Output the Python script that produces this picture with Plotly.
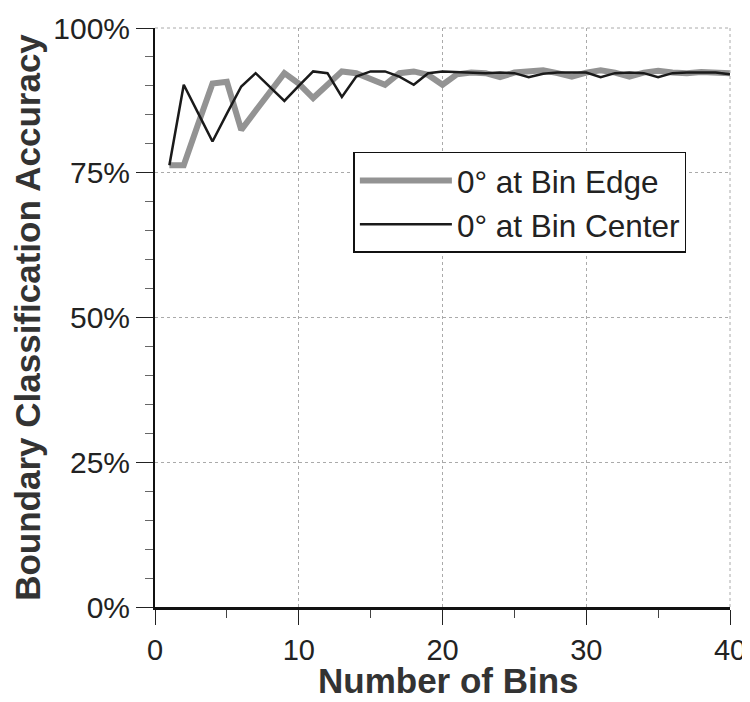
import plotly.graph_objects as go

bins = list(range(1, 41))
edge_acc = [76.3, 76.3, 83.4, 90.4, 90.7, 82.4, 85.7, 88.9, 92.2, 90.4,
            87.9, 90.2, 92.5, 92.2, 91.3, 90.2, 92.2, 92.5, 91.9, 90.2,
            92.0, 92.3, 92.2, 91.5, 92.3, 92.5, 92.7, 92.2, 91.6, 92.3,
            92.7, 92.3, 91.6, 92.3, 92.6, 92.3, 92.2, 92.4, 92.3, 92.2]
center_acc = [76.3, 90.2, 85.3, 80.4, 85.2, 89.9, 92.2, 89.8, 87.4, 90.0,
              92.5, 92.2, 88.1, 91.6, 92.5, 92.5, 91.6, 90.2, 92.2, 92.5,
              92.4, 92.3, 92.2, 92.3, 92.2, 91.5, 92.1, 92.3, 92.3, 92.3,
              91.5, 92.2, 92.3, 92.2, 91.5, 92.2, 92.3, 92.3, 92.3, 92.0]
x_ticks = [0, 10, 20, 30, 40]
y_ticks = [0, 25, 50, 75, 100]
y_tick_labels = ["0%", "25%", "50%", "75%", "100%"]

fig = go.Figure()
fig.add_trace(go.Scatter(x=bins, y=edge_acc, mode="lines", name="0° at Bin Edge",
                         line=dict(color="#939393", width=6)))
fig.add_trace(go.Scatter(x=bins, y=center_acc, mode="lines", name="0° at Bin Center",
                         line=dict(color="#1a1a1a", width=2.5)))

font_family = "Liberation Sans, Arial, Helvetica, sans-serif"
fig.update_layout(
    width=742, height=694,
    margin=dict(l=147, r=20, t=20, b=95, autoexpand=False),
    paper_bgcolor="white", plot_bgcolor="white",
    font=dict(family=font_family, color="#222", size=29),
    showlegend=True,
    legend=dict(x=0.345, y=0.786, xanchor="left", yanchor="top",
                bordercolor="#111", borderwidth=1.5, bgcolor="white",
                font=dict(size=31.5, color="#222"), itemwidth=92,
                tracegroupgap=0),
    xaxis=dict(range=[0, 40], tickvals=x_ticks, ticks="outside", ticklen=15,
               tickwidth=1.2, tickcolor="#222", automargin=False,
               tickfont=dict(size=29),
               minor=dict(dtick=5, ticks="outside", ticklen=8, tickcolor="#444", showgrid=False),
               showgrid=True, gridcolor="#aaa", griddash="dot", gridwidth=1,
               showline=True, linecolor="#111", linewidth=2.5, mirror=False,
               zeroline=False),
    yaxis=dict(range=[0, 100], tickvals=y_ticks, ticktext=y_tick_labels,
               ticks="outside", ticklen=17, tickwidth=1.2, tickcolor="#222",
               tickfont=dict(size=30), automargin=True,
               minor=dict(dtick=5, ticks="outside", ticklen=8, tickcolor="#666", showgrid=False),
               showgrid=True, gridcolor="#aaa", griddash="dot", gridwidth=1,
               showline=True, linecolor="#111", linewidth=2, zeroline=False,
               title=dict(text="<b>Boundary Classification Accuracy</b>", font=dict(size=35, color="#333"), standoff=6)),
)
fig.add_annotation(text="<b>Number of Bins</b>", xref="paper", yref="paper",
                   x=0.51, y=-0.127, xanchor="center", yanchor="middle",
                   showarrow=False, font=dict(size=35, color="#333", family=font_family))
# dotted top and right frame
fig.add_shape(type="line", xref="paper", yref="paper", x0=0, x1=1, y0=1, y1=1,
              line=dict(color="#aaa", width=1, dash="dot"))
fig.add_shape(type="line", xref="paper", yref="paper", x0=1, x1=1, y0=0, y1=1,
              line=dict(color="#aaa", width=1, dash="dot"))

fig.write_html("out.html")
